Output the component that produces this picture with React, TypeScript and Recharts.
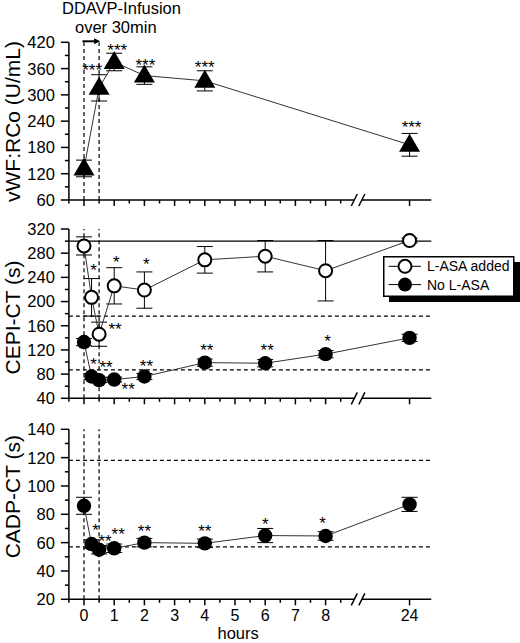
import React from "react";
import {
  ComposedChart,
  Line,
  XAxis,
  YAxis,
  ErrorBar,
  LabelList,
  ReferenceLine,
  Legend,
} from "recharts";

const FONT = "'Liberation Sans', Arial, Helvetica, sans-serif";
const INK = "#000";

// ---- shared broken time axis: 0..8 h, then a break, then 24 h ----
const X24 = 10.78; // where the 24 h sample sits after the break
const BREAK_L = 8.95;
const BREAK_R = 9.2;
const X_DOMAIN: [number, number] = [-0.5, 11.5];
const X_MAJOR = [0, 1, 2, 3, 4, 5, 6, 7, 8, X24];
const X_MAJOR_LABELS = ["0", "1", "2", "3", "4", "5", "6", "7", "8", "24"];
const X_MINOR = [-0.5, 0.5, 1.5, 2.5, 3.5, 4.5, 5.5, 6.5, 7.5, 8.5];
const INFUSION = [0, 0.5];
const toAxis = (h: number) => (h === 24 ? X24 : h);

// ---- vWF:RCo panel ----
const VWF_HOURS = [0, 0.5, 1, 2, 4, 24];
const VWF = [132, 316, 375, 344, 332, 186];
const VWF_ERR = [19, 30, 20, 20, 23, 26];
const VWF_STARS = ["", "***", "***", "***", "***", "***"];
const VWF_MAJOR = [60, 120, 180, 240, 300, 360, 420];
const VWF_MINOR = [90, 150, 210, 270, 330, 390];

// ---- closure time panels ----
const CT_HOURS = [0, 0.25, 0.5, 1, 2, 4, 6, 8, 24];

const CEPI_ASA = [292, 207, 146, 226, 219, 269, 275, 251, 301];
const CEPI_ASA_ERR = [15, 31, 20, 30, 30, 22, 26, 50, 4];
const CEPI_ASA_STARS = ["", "*", "**", "*", "*", "", "", "", ""];
const CEPI_NO = [133, 76, 70, 71, 76, 99, 98, 113, 140];
const CEPI_NO_ERR = [6, 5, 4, 4, 5, 6, 6, 6, 6];
const CEPI_NO_STARS = ["", "*", "**", "**", "**", "**", "**", "*", ""];
const CEPI_MAJOR = [40, 80, 120, 160, 200, 240, 280, 320];
const CEPI_MINOR = [60, 100, 140, 180, 220, 260, 300];
const CEPI_NORMAL_MAX = 300;
const CEPI_DASHED = [176, 87];

const CADP = [86, 59, 55, 56, 60, 59.5, 65, 64.7, 87];
const CADP_ERR = [6, 3, 3, 3, 3, 3, 5, 3, 5];
const CADP_STARS = ["", "*", "**", "**", "**", "**", "*", "*", ""];
const CADP_MAJOR = [20, 40, 60, 80, 100, 120, 140];
const CADP_MINOR = [30, 50, 70, 90, 110, 130];
const CADP_DASHED = [118, 57];

const vwfRows = VWF_HOURS.map((h, i) => ({
  x: toAxis(h),
  vwf: VWF[i],
  vwfErr: VWF_ERR[i],
  vwfStars: VWF_STARS[i],
}));

const cepiRows = CT_HOURS.map((h, i) => ({
  x: toAxis(h),
  asa: CEPI_ASA[i],
  asaErr: CEPI_ASA_ERR[i],
  asaStars: CEPI_ASA_STARS[i],
  no: CEPI_NO[i],
  noErr: CEPI_NO_ERR[i],
  noStars: CEPI_NO_STARS[i],
}));

const cadpRows = CT_HOURS.map((h, i) => ({
  x: toAxis(h),
  cadp: CADP[i],
  cadpErr: CADP_ERR[i],
  cadpStars: CADP_STARS[i],
}));

// star nudges (px from marker centre to the middle of the asterisks)
type Nudge = Record<number, [number, number]>;
const VWF_NUDGE: Nudge = { 1: [-7, -22], 2: [3, -16], 3: [1, -15], 4: [0, -18], 5: [2, -22] };
const ASA_NUDGE: Nudge = { 1: [2, -31], 2: [16, -9], 3: [2, -28], 4: [2, -30] };
const NO_NUDGE: Nudge = { 2: [7, -17], 3: [14, 5], 4: [2, -15] };
const CADP_NUDGE: Nudge = { 1: [4, -18], 2: [6, -13], 3: [4, -18], 7: [-3, -17] };

const starLabel = (nudge: Nudge, def: [number, number]) => (p: any) => {
  if (!p.value) return null;
  const px = typeof p.x === "number" ? p.x : p.viewBox?.x;
  const py = typeof p.y === "number" ? p.y : p.viewBox?.y;
  const [dx, dy] = nudge[p.index] ?? def;
  return (
    <text
      key={`s${p.index}`}
      x={px + dx}
      y={py + dy + 10}
      textAnchor="middle"
      fontSize={17}
      fontFamily={FONT}
      style={{ fill: INK }}
    >
      {p.value}
    </text>
  );
};

const triangleDot = (p: any) =>
  p.cx == null ? null : (
    <path
      key={`t${p.index}`}
      d={`M${p.cx},${p.cy - 11} L${p.cx + 10.5},${p.cy + 7} L${p.cx - 10.5},${p.cy + 7} Z`}
      fill={INK}
    />
  );

const openDot = (p: any) =>
  p.cx == null ? null : (
    <circle key={`o${p.index}`} cx={p.cx} cy={p.cy} r={6.5} fill="#fff" stroke={INK} strokeWidth={2} />
  );

const filledDot = (p: any) =>
  p.cx == null ? null : <circle key={`f${p.index}`} cx={p.cx} cy={p.cy} r={7.2} fill={INK} />;

// axis ticks drawn by hand so majors and minors get different lengths
const yTick = (major: number[]) => (p: any) => {
  const v = p.payload.value;
  const isMajor = major.includes(v);
  return (
    <g>
      <line x1={p.x} x2={p.x - (isMajor ? 8 : 4)} y1={p.y} y2={p.y} stroke={INK} strokeWidth={1.5} />
      {isMajor && (
        <text x={p.x - 14} y={p.y} dy="0.36em" textAnchor="end" fontSize={16.5} fontFamily={FONT} fill={INK}>
          {v}
        </text>
      )}
    </g>
  );
};

const xTick = (showLabels: boolean) => (p: any) => {
  const v = p.payload.value;
  const idx = X_MAJOR.indexOf(v);
  const isMajor = idx >= 0;
  return (
    <g>
      <line x1={p.x} x2={p.x} y1={p.y} y2={p.y + (isMajor ? 6 : 3.5)} stroke={INK} strokeWidth={1.5} />
      {showLabels && isMajor && (
        <text x={p.x} y={p.y + 22} textAnchor="middle" fontSize={16} fontFamily={FONT} fill={INK}>
          {X_MAJOR_LABELS[idx]}
        </text>
      )}
    </g>
  );
};

const X_TICKS = [...X_MAJOR, ...X_MINOR].sort((a, b) => a - b);

const AxisTitle = ({ text, bx, cy }: { text: string; bx: number; cy: number }) => (
  <text
    transform={`translate(${bx},${cy}) rotate(-90)`}
    textAnchor="middle"
    fontSize={21}
    fontFamily={FONT}
    fill={INK}
  >
    {text}
  </text>
);

const HoursLabel = (p: any) => {
  const vb = p.viewBox || {};
  return (
    <text x={vb.x + vb.width / 2 - 12} y={vb.y + 40} textAnchor="middle" fontSize={16.5} fontFamily={FONT} fill={INK}>
      hours
    </text>
  );
};

const slashShape = (p: any) => (
  <g>
    <line x1={p.x1 - 3} y1={p.y1 + 6} x2={p.x1 + 3} y2={p.y1 - 6} stroke={INK} strokeWidth={1.5} />
    <line x1={p.x2 - 3} y1={p.y2 + 6} x2={p.x2 + 3} y2={p.y2 - 6} stroke={INK} strokeWidth={1.5} />
  </g>
);

const arrowShape = (p: any) => (
  <g>
    <line x1={p.x1 - 1.5} y1={p.y1 - 1} x2={p.x2 - 4} y2={p.y2 - 1} stroke={INK} strokeWidth={2} />
    <path d={`M${p.x2 + 1},${p.y2 - 1} l-6,-3 v6 z`} fill={INK} />
    <text x={p.x1 - 22} y={p.y1 - 28.3} fontSize={16.5} fontFamily={FONT} fill={INK}>
      DDAVP-Infusion
    </text>
    <text x={p.x1 - 9} y={p.y1 - 9.6} fontSize={16.5} fontFamily={FONT} fill={INK}>
      over 30min
    </text>
  </g>
);

// bottom axis line with a "//" break between 8 h and 24 h
const brokenAxis = (yMin: number) => [
  <ReferenceLine
    key="ax1"
    segment={[{ x: X_DOMAIN[0], y: yMin }, { x: BREAK_L, y: yMin }]}
    stroke={INK}
    strokeWidth={1.5}
    ifOverflow="visible"
  />,
  <ReferenceLine
    key="ax2"
    segment={[{ x: BREAK_R, y: yMin }, { x: X_DOMAIN[1], y: yMin }]}
    stroke={INK}
    strokeWidth={1.5}
    ifOverflow="visible"
  />,
  <ReferenceLine
    key="ax3"
    segment={[{ x: BREAK_L, y: yMin }, { x: BREAK_R, y: yMin }]}
    shape={slashShape}
    ifOverflow="visible"
  />,
];

const infusionLines = () =>
  INFUSION.map((h) => (
    <ReferenceLine key={`inf${h}`} x={h} stroke={INK} strokeWidth={1.2} strokeDasharray="4 3" />
  ));

const LEGEND_MARK: Record<string, "open" | "filled"> = { asa: "open", no: "filled" };

const CepiLegend = (props: any) => {
  const items = (props.payload ?? []).filter((it: any) => it.type !== "none");
  return (
    <svg width={140} height={48}>
      <rect x={6} y={6} width={131} height={40} fill={INK} />
      <rect x={0.75} y={0.75} width={130} height={39.5} fill="#fff" stroke={INK} strokeWidth={1.5} />
      {items.map((it: any, i: number) => {
        const cy = 10.3 + i * 18.3;
        const open = (LEGEND_MARK[it.dataKey] ?? (i === 0 ? "open" : "filled")) === "open";
        return (
          <g key={i}>
            <line x1={5.6} x2={38} y1={cy} y2={cy} stroke={INK} strokeWidth={1} />
            {open ? (
              <circle cx={22} cy={cy} r={6.5} fill="#fff" stroke={INK} strokeWidth={2} />
            ) : (
              <circle cx={22} cy={cy} r={7} fill={INK} />
            )}
            <text x={44} y={cy} dy="0.36em" fontSize={14} fontFamily={FONT} fill={INK}>
              {it.value}
            </text>
          </g>
        );
      })}
    </svg>
  );
};

const PLOT_RIGHT = 88.7;
const Y_AXIS_W = 68.9;
const TITLE_X = 20;

export default function App() {
  return (
    <div style={{ position: "absolute", left: 0, top: 0, width: 520, height: 643, background: "#fff" }}>
      {/* vWF:RCo */}
      <div style={{ position: "absolute", left: 0, top: 0 }}>
        <ComposedChart width={520} height={215} data={vwfRows} margin={{ top: 42.3, right: PLOT_RIGHT, bottom: 0, left: 0 }}>
          <XAxis
            type="number"
            dataKey="x"
            domain={X_DOMAIN}
            ticks={X_TICKS}
            interval={0}
            tick={xTick(false)}
            tickLine={false}
            axisLine={false}
            tickSize={0}
            tickMargin={0}
            height={15}
          />
          <YAxis
            type="number"
            domain={[60, 420]}
            ticks={[...VWF_MAJOR, ...VWF_MINOR].sort((a, b) => a - b)}
            interval={0}
            tick={yTick(VWF_MAJOR)}
            tickLine={false}
            tickSize={0}
            tickMargin={0}
            axisLine={{ stroke: INK, strokeWidth: 1.5 }}
            width={Y_AXIS_W}
            label={<AxisTitle text="vWF:RCo (U/mL)" bx={TITLE_X} cy={121.5} />}
          />
          {infusionLines()}
          {brokenAxis(60)}
          <ReferenceLine
            segment={[{ x: INFUSION[0], y: 420 }, { x: INFUSION[1], y: 420 }]}
            shape={arrowShape}
            ifOverflow="visible"
          />
          <Line
            dataKey="vwf"
            stroke="#333"
            strokeWidth={1}
            dot={triangleDot}
            activeDot={false}
            isAnimationActive={false}
          >
            <ErrorBar dataKey="vwfErr" width={8} stroke={INK} strokeWidth={1} direction="y" />
            <LabelList dataKey="vwfStars" content={starLabel(VWF_NUDGE, [1, -18])} />
          </Line>
        </ComposedChart>
      </div>

      {/* CEPI-CT */}
      <div style={{ position: "absolute", left: 0, top: 215 }}>
        <ComposedChart width={520} height={200} data={cepiRows} margin={{ top: 14, right: PLOT_RIGHT, bottom: 1.7, left: 0 }}>
          <XAxis
            type="number"
            dataKey="x"
            domain={X_DOMAIN}
            ticks={X_TICKS}
            interval={0}
            tick={xTick(false)}
            tickLine={false}
            axisLine={false}
            tickSize={0}
            tickMargin={0}
            height={15}
          />
          <YAxis
            type="number"
            domain={[40, 320]}
            ticks={[...CEPI_MAJOR, ...CEPI_MINOR].sort((a, b) => a - b)}
            interval={0}
            tick={yTick(CEPI_MAJOR)}
            tickLine={false}
            tickSize={0}
            tickMargin={0}
            axisLine={{ stroke: INK, strokeWidth: 1.5 }}
            width={Y_AXIS_W}
            label={<AxisTitle text="CEPI-CT (s)" bx={TITLE_X} cy={102.5} />}
          />
          {infusionLines()}
          <ReferenceLine y={CEPI_NORMAL_MAX} stroke={INK} strokeWidth={1.2} />
          {CEPI_DASHED.map((v) => (
            <ReferenceLine key={`d${v}`} y={v} stroke={INK} strokeWidth={1.2} strokeDasharray="4 3" />
          ))}
          {brokenAxis(40)}
          <Legend
            content={<CepiLegend />}
            layout="vertical"
            align="center"
            verticalAlign="middle"
            wrapperStyle={{ position: "absolute", left: 382.7, top: 40.7, width: 140, height: 48 }}
          />
          <Line
            name="L-ASA added"
            dataKey="asa"
            stroke="#333"
            strokeWidth={1}
            dot={openDot}
            activeDot={false}
            isAnimationActive={false}
          >
            <ErrorBar dataKey="asaErr" width={8} stroke={INK} strokeWidth={1} direction="y" />
            <LabelList dataKey="asaStars" content={starLabel(ASA_NUDGE, [2, -30])} />
          </Line>
          <Line
            name="No L-ASA"
            dataKey="no"
            stroke="#333"
            strokeWidth={1}
            dot={filledDot}
            activeDot={false}
            isAnimationActive={false}
          >
            <ErrorBar dataKey="noErr" width={8} stroke={INK} strokeWidth={1} direction="y" />
            <LabelList dataKey="noStars" content={starLabel(NO_NUDGE, [2, -17])} />
          </Line>
        </ComposedChart>
      </div>

      {/* CADP-CT */}
      <div style={{ position: "absolute", left: 0, top: 415 }}>
        <ComposedChart width={520} height={228} data={cadpRows} margin={{ top: 14.3, right: PLOT_RIGHT, bottom: 3.7, left: 0 }}>
          <XAxis
            type="number"
            dataKey="x"
            domain={X_DOMAIN}
            ticks={X_TICKS}
            interval={0}
            tick={xTick(true)}
            tickLine={false}
            axisLine={false}
            tickSize={0}
            tickMargin={0}
            height={40}
            label={<HoursLabel />}
          />
          <YAxis
            type="number"
            domain={[20, 140]}
            ticks={[...CADP_MAJOR, ...CADP_MINOR].sort((a, b) => a - b)}
            interval={0}
            tick={yTick(CADP_MAJOR)}
            tickLine={false}
            tickSize={0}
            tickMargin={0}
            axisLine={{ stroke: INK, strokeWidth: 1.5 }}
            width={Y_AXIS_W}
            label={<AxisTitle text="CADP-CT (s)" bx={TITLE_X} cy={81.7} />}
          />
          {infusionLines()}
          {CADP_DASHED.map((v) => (
            <ReferenceLine key={`d${v}`} y={v} stroke={INK} strokeWidth={1.2} strokeDasharray="4 3" />
          ))}
          {brokenAxis(20)}
          <Line
            dataKey="cadp"
            stroke="#333"
            strokeWidth={1}
            dot={filledDot}
            activeDot={false}
            isAnimationActive={false}
          >
            <ErrorBar dataKey="cadpErr" width={8} stroke={INK} strokeWidth={1} direction="y" />
            <LabelList dataKey="cadpStars" content={starLabel(CADP_NUDGE, [0, -16])} />
          </Line>
        </ComposedChart>
      </div>
    </div>
  );
}
